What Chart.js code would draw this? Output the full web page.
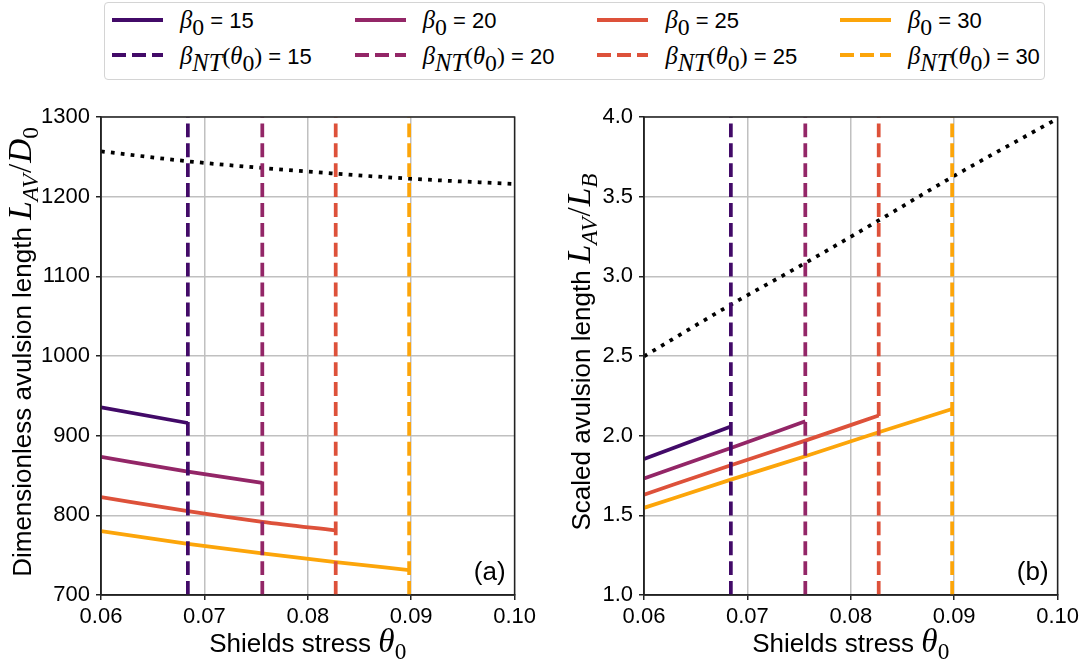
<!DOCTYPE html>
<html>
<head>
<meta charset="utf-8">
<script src="https://cdn.jsdelivr.net/npm/chart.js@4.4.1/dist/chart.umd.min.js"></script>
<style>
body { margin: 0; background: #fff; width: 1083px; height: 661px; position: relative; overflow: hidden;
       font-family: "Liberation Sans", Arial, sans-serif; color: #000; }
#legendBox { position: absolute; left: 104px; top: 2px; width: 941px; height: 78px; box-sizing: border-box;
             border: 1px solid #d4d4d4; border-radius: 4px; }
.swatch { position: absolute; width: 51px; height: 4px; }
.lbl { position: absolute; font-size: 22px; line-height: 24px; white-space: nowrap; }
.mi { font-family: "Liberation Serif", serif; font-style: italic; font-size: 1.12em; }
.mr { font-family: "Liberation Serif", serif; font-size: 1.08em; }
sub { font-size: 0.72em; vertical-align: -0.3em; line-height: 0; }
.panel { position: absolute; top: 85px; }
</style>
</head>
<body>
<div id="legendBox"></div>
<div class="panel" style="left:0px"><canvas id="chartA" width="540" height="576"></canvas></div>
<div class="panel" style="left:540px"><canvas id="chartB" width="543" height="576"></canvas></div>
<script>
var thetaCols = [0.06, 0.0684, 0.0756, 0.0827, 0.0898, 0.10];
// beta_NT(theta_0) thresholds (vertical dashed lines)
var thetaNT = [0.0684, 0.0756, 0.0827, 0.0898];
var beta0 = [15, 20, 25, 30];
var colors = ['#420a68', '#932667', '#dd513a', '#fca50a'];

// panel (a): L_AV / D_0
var dimRange = [700, 1300];
var dim15 = [935.5, 915.9];
var dim20 = [873.3, 854.9, 840.7];
var dim25 = [822.8, 805.2, 791.8, 781.0];
var dim30 = [780.2, 764.3, 752.2, 741.3, 731.3];
var dimLimit = [1256.9, 1244.4, 1236.0, 1228.9, 1222.6, 1215.9];

// panel (b): L_AV / L_B
var scaledRange = [1.0, 4.0];
var scaled15 = [1.854, 2.058];
var scaled20 = [1.731, 1.923, 2.090];
var scaled25 = [1.630, 1.814, 1.969, 2.127];
var scaled30 = [1.547, 1.724, 1.871, 2.021, 2.167];
var scaledLimit = [2.498, 2.822, 3.084, 3.351, 3.623, 3.99];

var SANS = '"Liberation Sans", Arial, sans-serif';
var SERIF = '"Liberation Serif", serif';
var TICK_SIZE = 22;
var TITLE_SIZE = 26;
var MATH_SCALE = 1.28;
var LW = 3.75;

// ---------- legend (html, real text) ----------
function addLegend() {
    var box = document.body;
    for (var i = 0; i < beta0.length; i++) {
        var x = 112 + i * 242.7;
        for (var row = 0; row < 2; row++) {
            var sw = document.createElement('div');
            sw.className = 'swatch';
            sw.style.left = x + 'px';
            sw.style.top = (row == 0 ? 17.5 : 53) + 'px';
            if (row == 0) sw.style.background = colors[i];
            else sw.style.background = 'repeating-linear-gradient(to right, ' + colors[i] + ' 0 13.9px, transparent 13.9px 19.9px)';
            box.appendChild(sw);

            var lb = document.createElement('div');
            lb.className = 'lbl';
            lb.style.left = (x + 68) + 'px';
            lb.style.top = (row == 0 ? 8 : 44) + 'px';
            if (row == 0)
                lb.innerHTML = '<span class="mi">β</span><sub class="mr">0</sub> = ' + beta0[i];
            else
                lb.innerHTML = '<span class="mi">β</span><sub class="mi">NT</sub><span class="mr">(</span><span class="mi">θ</span><sub class="mr">0</sub><span class="mr">)</span> = ' + beta0[i];
            box.appendChild(lb);
        }
    }
}
addLegend();

// ---------- rich text (sub-scripts, math italics) on canvas ----------
function fontFor(kind, size) {
    if (kind == 't') return size + 'px ' + SANS;
    if (kind == 'i') return 'italic ' + (size * MATH_SCALE) + 'px ' + SERIF;
    return (size * MATH_SCALE) + 'px ' + SERIF;
}

function drawRich(ctx, parts, cx, cy, size, rot) {
    ctx.save();
    ctx.translate(cx, cy);
    ctx.rotate(rot);
    var widths = [];
    var total = 0;
    for (var i = 0; i < parts.length; i++) {
        ctx.font = fontFor(parts[i][1], parts[i][2] ? size * 0.7 : size);
        widths.push(ctx.measureText(parts[i][0]).width + (parts[i][3] || 0));
        total += widths[i];
    }
    var x = -total / 2;
    ctx.fillStyle = '#000';
    ctx.textAlign = 'left';
    ctx.textBaseline = 'alphabetic';
    for (var i = 0; i < parts.length; i++) {
        ctx.font = fontFor(parts[i][1], parts[i][2] ? size * 0.7 : size);
        ctx.fillText(parts[i][0], x, parts[i][2] ? size * 0.26 : 0);
        x += widths[i];
    }
    ctx.restore();
}

// [text, kind (t sans / i math italic / r math roman), subscript, extra space after]
var xTitle = [['Shields stress ', 't'], ['θ', 'i'], ['0', 'r', 1]];
var yTitleA = [['Dimensionless avulsion length ', 't'], ['L', 'i'], ['AV', 'i', 1, 1], ['/', 'r', 0, 1], ['D', 'i'], ['0', 'r', 1]];
var yTitleB = [['Scaled avulsion length ', 't'], ['L', 'i'], ['AV', 'i', 1, 1], ['/', 'r', 0, 1], ['L', 'i'], ['B', 'i', 1]];

function decor(yParts, yTitleX, tag) {
    return {
        id: 'decor',
        afterDatasetsDraw: function (chart) {
            var a = chart.chartArea;
            var ctx = chart.ctx;
            ctx.save();
            ctx.strokeStyle = '#222';
            ctx.lineWidth = 1.5;
            ctx.strokeRect(a.left, a.top, a.right - a.left, a.bottom - a.top);
            ctx.restore();
        },
        afterDraw: function (chart) {
            var a = chart.chartArea;
            var ctx = chart.ctx;
            drawRich(ctx, xTitle, (a.left + a.right) / 2, a.bottom + 57, TITLE_SIZE, 0);
            drawRich(ctx, yParts, yTitleX, (a.top + a.bottom) / 2 - 4, TITLE_SIZE, -Math.PI / 2);
            ctx.save();
            ctx.font = TITLE_SIZE + 'px ' + SANS;
            ctx.fillStyle = '#000';
            ctx.textAlign = 'right';
            ctx.fillText(tag, a.right - 9, a.bottom - 15);
            ctx.restore();
        }
    };
}

function makeDatasets(solids, limit, range) {
    var ds = [];
    for (var i = 0; i < beta0.length; i++) {
        ds.push({
            data: solids[i].map(function (v, k) { return { x: thetaCols[k], y: v }; }),
            borderColor: colors[i], borderWidth: LW, cubicInterpolationMode: 'monotone', order: 3
        });
        ds.push({
            data: [{ x: thetaNT[i], y: range[0] }, { x: thetaNT[i], y: range[1] }],
            borderColor: colors[i], borderWidth: LW, borderDash: [13.9, 6], order: 1
        });
    }
    ds.push({
        data: limit.map(function (v, k) { return { x: thetaCols[k], y: v }; }),
        borderColor: '#000', borderWidth: LW, borderDash: [3.75, 6.2], cubicInterpolationMode: 'monotone', order: 2
    });
    return ds;
}

function makeChart(id, datasets, range, yStep, yFmt, yWidth, plugin) {
    return new Chart(document.getElementById(id), {
        type: 'scatter',
        data: { datasets: datasets },
        options: {
            responsive: false,
            animation: false,
            showLine: true,
            elements: { point: { radius: 0, hoverRadius: 0 }, line: { fill: false } },
            layout: { padding: { top: 32, right: 24, left: 0, bottom: 0 } },
            plugins: { legend: { display: false }, tooltip: { enabled: false } },
            scales: {
                x: {
                    type: 'linear', min: 0.06, max: 0.10,
                    afterFit: function (s) { s.height = 66; },
                    ticks: {
                        stepSize: 0.01, autoSkip: false, maxRotation: 0, padding: 4, color: '#000',
                        font: { family: SANS, size: TICK_SIZE },
                        callback: function (v) { return v.toFixed(2); }
                    },
                    grid: { color: '#c0c0c0', lineWidth: 1.5, tickColor: '#222', tickLength: 5, tickWidth: 1.5 },
                    border: { color: '#222', width: 1.5 }
                },
                y: {
                    type: 'linear', min: range[0], max: range[1],
                    afterFit: function (s) { s.width = yWidth; },
                    ticks: {
                        stepSize: yStep, autoSkip: false, padding: 6, color: '#000',
                        font: { family: SANS, size: TICK_SIZE },
                        callback: yFmt
                    },
                    grid: { color: '#c0c0c0', lineWidth: 1.5, tickColor: '#222', tickLength: 5, tickWidth: 1.5 },
                    border: { color: '#222', width: 1.5 }
                }
            }
        },
        plugins: [plugin]
    });
}

makeChart('chartA', makeDatasets([dim15, dim20, dim25, dim30], dimLimit, dimRange),
    dimRange, 100, function (v) { return String(v); }, 101, decor(yTitleA, 31, '(a)'));
makeChart('chartB', makeDatasets([scaled15, scaled20, scaled25, scaled30], scaledLimit, scaledRange),
    scaledRange, 0.5, function (v) { return v.toFixed(1); }, 104, decor(yTitleB, 50, '(b)'));
</script>
</body>
</html>
